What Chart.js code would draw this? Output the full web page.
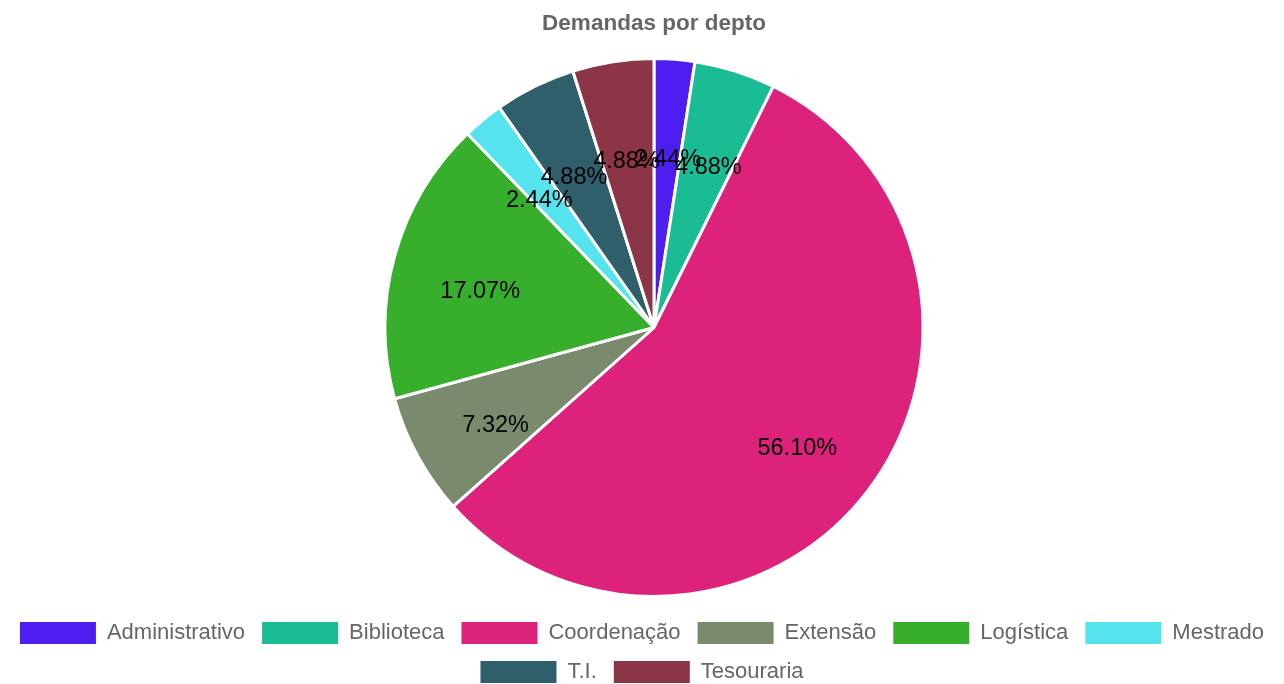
<!DOCTYPE html>
<html>
<head>
<meta charset="utf-8">
<script src="https://cdn.jsdelivr.net/npm/chart.js@4/dist/chart.umd.min.js"></script>
<style>
html,body{margin:0;padding:0;background:#fff;}
#wrap{width:1284px;height:684px;}
</style>
</head>
<body>
<div id="wrap"><canvas id="c" width="1284" height="684"></canvas></div>
<script>
const categories = ["Administrativo","Biblioteca","Coordenação","Extensão","Logística","Mestrado","T.I.","Tesouraria"];
const counts = [1, 2, 23, 3, 7, 1, 2, 2];
const colors = ["#4E1EF0","#1ABC94","#DC227A","#7A8A6C","#38AF2C","#55E3EE","#2F5F6A","#8C3546"];
const chartTitle = "Demandas por depto";

const FONT = "'Liberation Sans', Arial, Helvetica, sans-serif";

// Pie and title sit slightly right of the canvas centre; legend stays centred
const areaPlugin = {
  id: 'areaAdjust',
  afterLayout(chart) {
    const a = chart.chartArea;
    a.left += 24;
    a.bottom -= 7;
    a.width = a.right - a.left;
    a.height = a.bottom - a.top;
    const t = chart.titleBlock;
    if (t) { t.left += 24; t.width = t.right - t.left; }
  }
};

const labelPlugin = {
  id: 'pctLabels',
  afterDatasetsDraw(chart) {
    const ctx = chart.ctx;
    const meta = chart.getDatasetMeta(0);
    const data = chart.data.datasets[0].data;
    const total = data.reduce((a, b) => a + b, 0);
    ctx.save();
    ctx.font = "23.5px " + FONT;
    ctx.fillStyle = "#000";
    ctx.textAlign = "center";
    ctx.textBaseline = "middle";
    meta.data.forEach((arc, i) => {
      const p = arc.getProps(['x','y','startAngle','endAngle','outerRadius'], true);
      const mid = (p.startAngle + p.endAngle) / 2;
      const r = p.outerRadius * 0.67;
      const x = p.x + Math.cos(mid) * r;
      const y = p.y + Math.sin(mid) * r + 12;
      const pct = (data[i] / total * 100).toFixed(2) + "%";
      ctx.fillText(pct, x, y);
    });
    ctx.restore();
  }
};

new Chart(document.getElementById('c'), {
  type: 'pie',
  data: {
    labels: categories,
    datasets: [{
      data: counts,
      backgroundColor: colors,
      borderColor: "#fff",
      borderWidth: 3
    }]
  },
  options: {
    responsive: false,
    animation: false,
    devicePixelRatio: 1,
    layout: { padding: { left: 0, right: 0, top: 0, bottom: -9 } },
    plugins: {
      title: {
        display: true,
        text: chartTitle,
        color: "#666",
        font: { family: FONT, size: 22.5, weight: 'bold' },
        padding: { top: 10, bottom: 20 }
      },
      legend: {
        position: 'bottom',
        labels: {
          color: "#666",
          font: { family: FONT, size: 22 },
          boxWidth: 76,
          boxHeight: 22,
          padding: 17,
          generateLabels(chart) {
            const items = Chart.overrides.pie.plugins.legend.labels.generateLabels(chart);
            items.forEach(it => { it.lineWidth = 0; it.strokeStyle = it.fillStyle; });
            return items;
          }
        }
      },
      tooltip: { enabled: false }
    }
  },
  plugins: [areaPlugin, labelPlugin]
});
</script>
</body>
</html>
